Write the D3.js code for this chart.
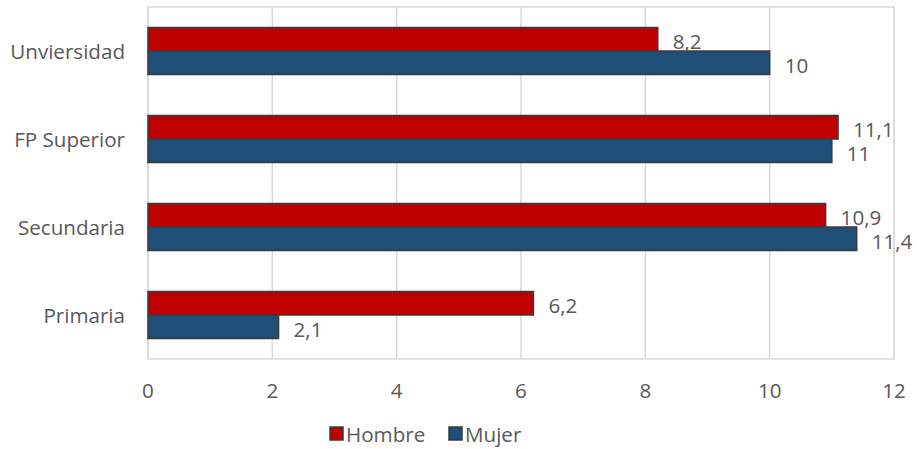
<!DOCTYPE html>
<html>
<head>
<meta charset="utf-8">
<script src="https://cdn.jsdelivr.net/npm/d3@7"></script>
<style>
  html, body { margin: 0; padding: 0; background: #fff; }
  svg { display: block; }
  text { font-family: "Open Sans", "Noto Sans", sans-serif; fill: #595959; }
</style>
</head>
<body>
<svg id="chart" width="918" height="449"></svg>
<script>
const categories = ["Unviersidad", "FP Superior", "Secundaria", "Primaria"];
const seriesNames = ["Hombre", "Mujer"];
const hombre = [8.2, 11.1, 10.9, 6.2];
const mujer = [10, 11, 11.4, 2.1];
const xTicks = [0, 2, 4, 6, 8, 10, 12];
const colors = ["#C00000", "#1F4E79"];

const W = 918, H = 449;
const FS = 20.6;
const margin = { left: 148, right: 24, top: 7, bottom: 90 };
const svg = d3.select("#chart");

const locale = d3.formatLocale({ decimal: ",", thousands: ".", grouping: [3], currency: ["", "€"] });
const fmt = v => (Number.isInteger(v) ? String(v) : locale.format(".1f")(v));

const x = d3.scaleLinear().domain([0, 12]).range([margin.left, W - margin.right]);
const y = d3.scaleBand().domain(categories).range([margin.top, H - margin.bottom]).paddingInner(0.466).paddingOuter(0.233);
const ySub = d3.scaleBand().domain(seriesNames).range([0, y.bandwidth()]);

const plotTop = margin.top, plotBottom = H - margin.bottom;

// gridlines
svg.append("g")
  .selectAll("line")
  .data(xTicks)
  .join("line")
  .attr("x1", d => x(d)).attr("x2", d => x(d))
  .attr("y1", plotTop).attr("y2", plotBottom)
  .attr("stroke", "#d9d9d9").attr("stroke-width", 1.5);

// plot border
svg.append("rect")
  .attr("x", x(0)).attr("y", plotTop)
  .attr("width", x(12) - x(0)).attr("height", plotBottom - plotTop)
  .attr("fill", "none").attr("stroke", "#d9d9d9").attr("stroke-width", 1.5);

// data
const rows = categories.map((c, i) => ({ cat: c, vals: [{ s: "Hombre", v: hombre[i] }, { s: "Mujer", v: mujer[i] }] }));

const groups = svg.append("g").selectAll("g")
  .data(rows).join("g")
  .attr("transform", d => `translate(0,${y(d.cat)})`);

groups.selectAll("rect")
  .data(d => d.vals).join("rect")
  .attr("x", x(0))
  .attr("y", d => ySub(d.s))
  .attr("width", d => x(d.v) - x(0))
  .attr("height", ySub.bandwidth())
  .attr("fill", (d, i) => colors[i])
  .attr("stroke", "#3a3a3a").attr("stroke-width", 1.5);

groups.selectAll("text.val")
  .data(d => d.vals).join("text")
  .attr("class", "val")
  .attr("x", d => x(d.v) + 15)
  .attr("y", d => ySub(d.s) + ySub.bandwidth() / 2 + 2)
  .attr("dominant-baseline", "central")
  .attr("font-size", FS)
  .text(d => fmt(d.v));

// category axis labels
svg.append("g").selectAll("text")
  .data(categories).join("text")
  .attr("x", 125)
  .attr("y", d => y(d) + y.bandwidth() / 2)
  .attr("text-anchor", "end")
  .attr("dominant-baseline", "central")
  .attr("font-size", FS)
  .text(d => d);

// x axis tick labels
svg.append("g").selectAll("text")
  .data(xTicks).join("text")
  .attr("x", d => x(d))
  .attr("y", 390)
  .attr("text-anchor", "middle")
  .attr("dominant-baseline", "central")
  .attr("font-size", FS)
  .text(d => d);

// legend
const legend = svg.append("g");
const legendItems = [
  { name: seriesNames[0], color: colors[0], x: 330 },
  { name: seriesNames[1], color: colors[1], x: 449 }
];
legendItems.forEach(it => {
  legend.append("rect")
    .attr("x", it.x).attr("y", 427)
    .attr("width", 13).attr("height", 13)
    .attr("fill", it.color).attr("stroke", "#3a3a3a").attr("stroke-width", 1.5);
  legend.append("text")
    .attr("x", it.x + 16).attr("y", 434)
    .attr("dominant-baseline", "central")
    .attr("font-size", FS)
    .text(it.name);
});
</script>
</body>
</html>
